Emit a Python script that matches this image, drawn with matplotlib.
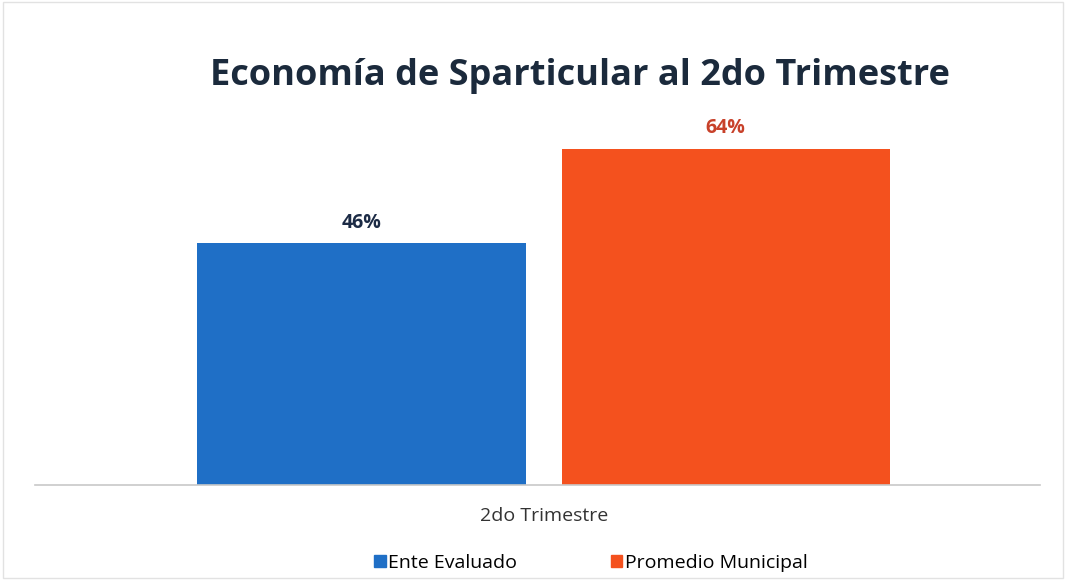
import matplotlib
matplotlib.use("Agg")
import matplotlib.pyplot as plt
from matplotlib.patches import Patch

plt.rcParams['font.family'] = ['Open Sans', 'DejaVu Sans']

categories = ["2do Trimestre"]
series = ["Ente Evaluado", "Promedio Municipal"]
values = [46, 64]
colors = ['#1f6fc6', '#f4511e']
label_colors = ['#1c2b45', '#c8412a']

fig = plt.figure(figsize=(10.66, 5.8), dpi=100)
ax = fig.add_axes([35/1066, 1 - 485/580, 1005/1066, 385/580])

width = 0.4
offsets = [-0.222, 0.222]
for val, off, c, lc, name in zip(values, offsets, colors, label_colors, series):
    ax.bar(off, val, width=width, color=c, label=name)
    ax.text(off, val + 3.9, f"{val}%", ha='center', va='center',
            fontsize=14, fontweight='bold', color=lc)

ax.set_xlim(-0.620, 0.605)
ax.set_ylim(0, 73.3)
ax.set_xticks([0])
ax.set_xticklabels(categories, fontsize=14, color='#333333')
ax.tick_params(axis='x', length=0, pad=16)
ax.set_yticks([])
for s in ['top', 'right', 'left']:
    ax.spines[s].set_visible(False)
ax.spines['bottom'].set_color('#c8c8c8')
ax.spines['bottom'].set_linewidth(1.2)

fig.text(580/1066, 1 - 76/580, "Economía de Sparticular al 2do Trimestre",
         ha='center', va='center', fontsize=26, fontweight='bold', color='#1b2a3c')

handles = [Patch(color=c, label=n) for c, n in zip(colors, series)]
fig.legend(handles=handles, loc='center', bbox_to_anchor=(591/1066, 1 - 563/580),
           ncol=2, frameon=False, fontsize=14, handlelength=0.6, handleheight=0.6,
           handletextpad=0.15, columnspacing=4.8)

# faint outer frame
fig.patches.append(plt.Rectangle((0.003, 0.003), 0.994, 0.994, transform=fig.transFigure,
                                 fill=False, edgecolor='#e2e2e2', linewidth=1))

fig.savefig("out.png", dpi=100)
